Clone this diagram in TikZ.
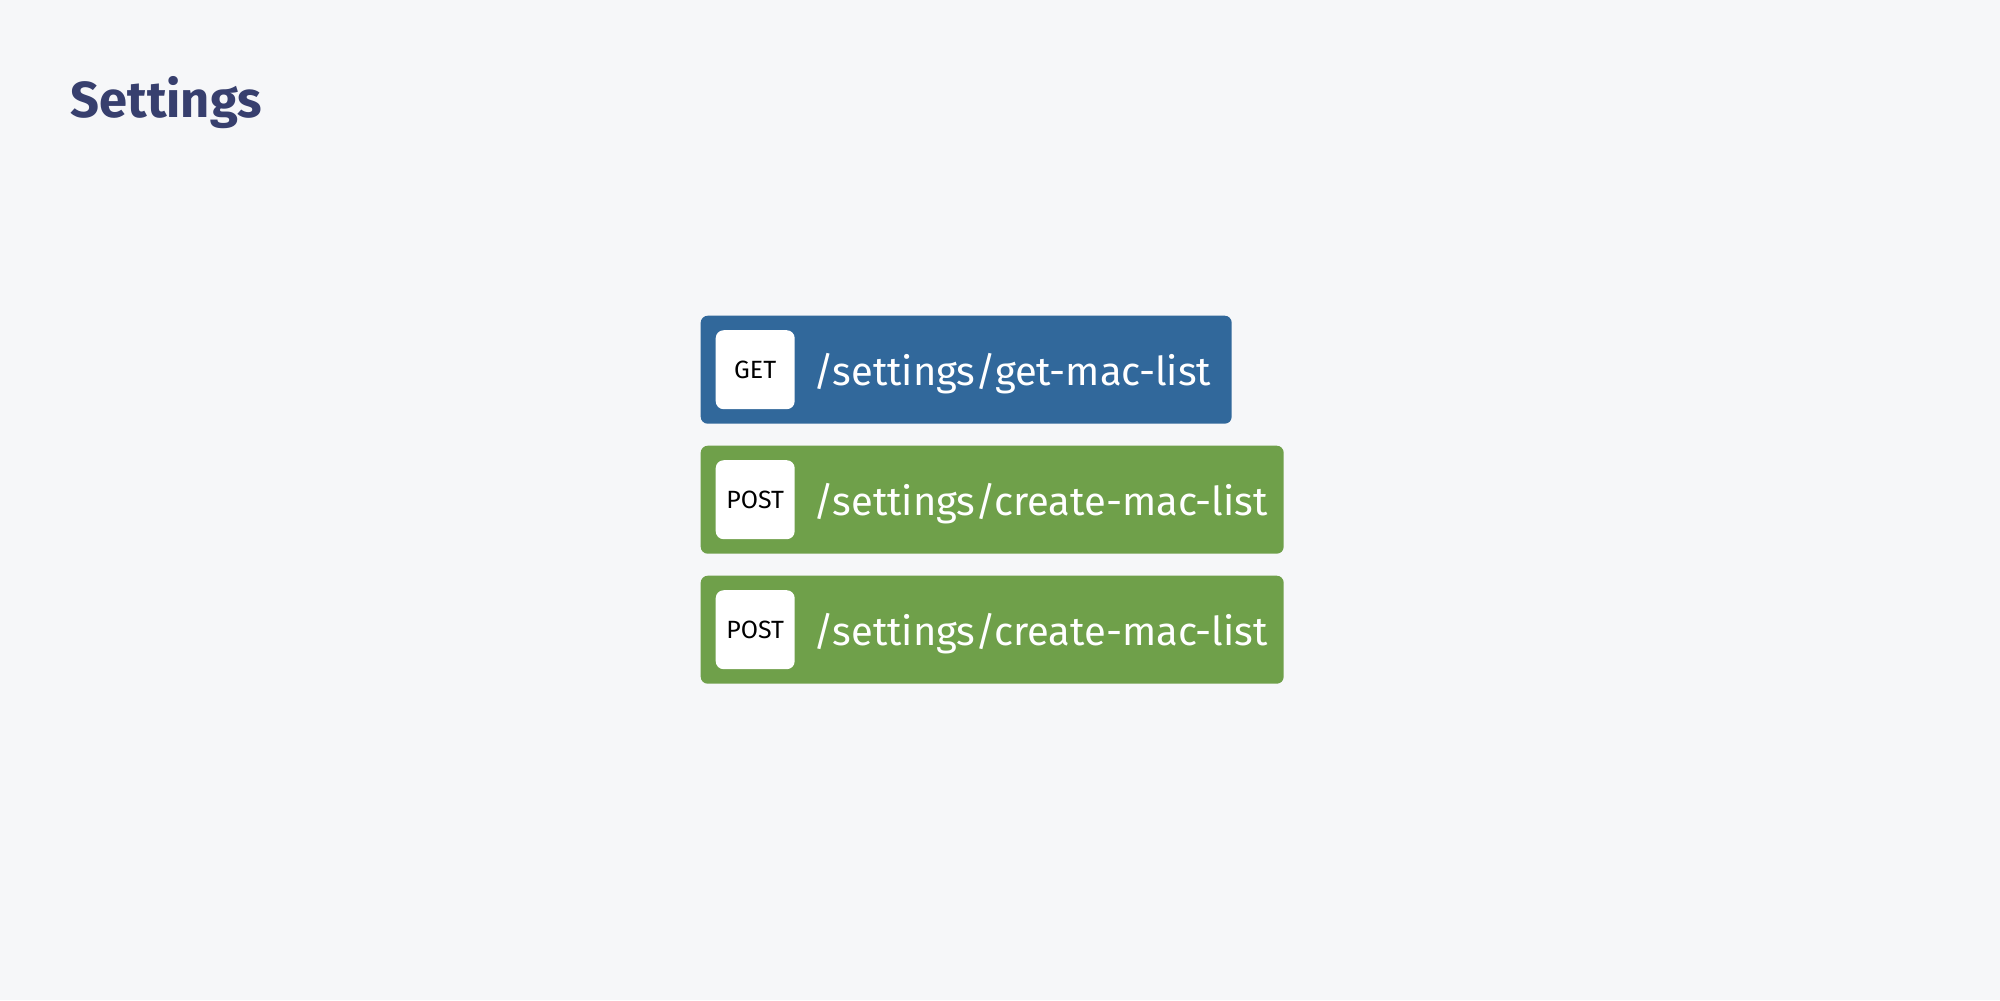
\documentclass[tikz,border=0pt]{standalone}
\usepackage{fontspec}
\setmainfont{Fira Sans}
\usetikzlibrary{positioning}
\definecolor{pagebg}{HTML}{F6F7F9}
\definecolor{titleblue}{HTML}{373F6E}
\definecolor{getblue}{HTML}{31689B}
\definecolor{postgreen}{HTML}{6FA04A}

\begin{document}
\begin{tikzpicture}[x=0.1mm,y=-0.1mm,
   route/.style={rounded corners=0.7mm,minimum height=10.8mm,anchor=north west,inner sep=0pt},
   badge/.style={fill=white,rounded corners=0.8mm,minimum size=7.9mm,inner sep=0pt,font=\fontsize{7.1}{8}\selectfont},
   path label/.style={text=white,anchor=mid west,inner sep=0pt,font=\fontsize{11.35}{13}\selectfont}]
   \fill[pagebg] (0,0) rectangle (2000,1000);
   \node [anchor=base west,inner sep=0pt,text=titleblue,font=\fontsize{14.4}{16}\selectfont\bfseries] (title) at (70,117) {Settings};
   % endpoints
   \node [route,fill=getblue,minimum width=53.1mm] (get) at (700,315) {};
   \node [badge,right=1.5mm of get.west] (get_b) {GET};
   \node [path label] (get_p) at ([xshift=1.7mm,yshift=-0.65mm]get_b.east) {/settings/get-mac-list};
   \node [route,fill=postgreen,minimum width=58.3mm] (post1) at (700,445) {};
   \node [badge,right=1.5mm of post1.west] (post1_b) {POST};
   \node [path label] (post1_p) at ([xshift=1.7mm,yshift=-0.65mm]post1_b.east) {/settings/create-mac-list};
   \node [route,fill=postgreen,minimum width=58.3mm] (post2) at (700,575) {};
   \node [badge,right=1.5mm of post2.west] (post2_b) {POST};
   \node [path label] (post2_p) at ([xshift=1.7mm,yshift=-0.65mm]post2_b.east) {/settings/create-mac-list};
\end{tikzpicture}
\end{document}
